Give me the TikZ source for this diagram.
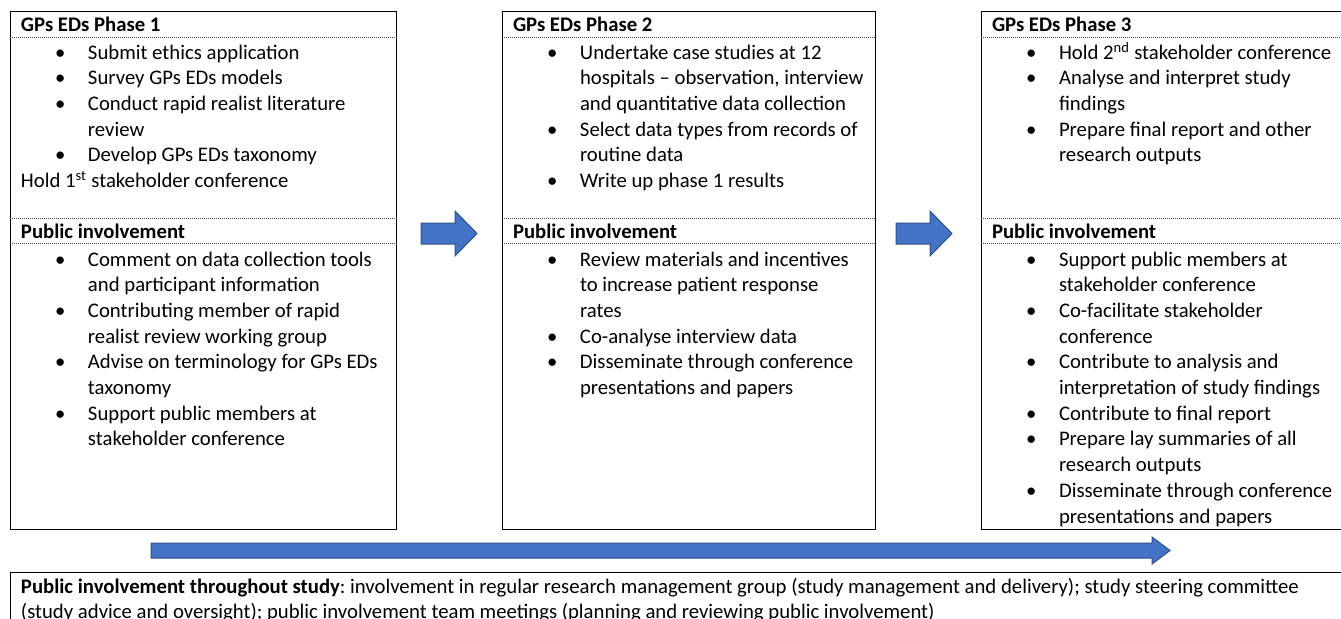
\documentclass[tikz,border=0pt]{standalone}
\usepackage{fontspec}
\setmainfont{Carlito}
\frenchspacing
\newlength\px \setlength\px{0.75pt}
\definecolor{arrfill}{HTML}{4472C4}
\definecolor{arrline}{HTML}{2F528F}
\newcommand\blist[3][67]{\vtop{\hsize=#2\px\parindent=0pt\leftskip=#1\px\rightskip=0pt plus 1fil\baselineskip=25.7\px\lineskiplimit=-50pt\lineskip=0pt\parskip=0pt\frenchspacing #3\par}}
\newcommand\bi{\par\noindent\llap{\makebox[33\px][l]{\textbullet}}}
\tikzset{
  txt/.style={inner sep=0pt, outer sep=0pt, anchor=base west, font=\fontsize{15.55pt}{19.3pt}\selectfont},
  boxframe/.style={draw=black, line width=0.9\px, inner sep=0pt, anchor=north west},
  sepline/.style={draw=black!70, line width=0.8\px, dash pattern=on 1\px off 1\px},
  blockarrow/.style={fill=arrfill, draw=arrline, line width=1\px, line join=miter}
}
\begin{document}
\begin{tikzpicture}[x=0.75pt,y=-0.75pt]
\useasboundingbox (0,0) rectangle (1341,618);
\clip (0,0) rectangle (1341,618);
\fill[white] (0,0) rectangle (1341,618);

% boxes
\node[boxframe, minimum width=386\px, minimum height=518\px] (b1) at (10,11) {};
\node[boxframe, minimum width=373\px, minimum height=518\px] (b2) at (502,11) {};
\node[boxframe, minimum width=450\px, minimum height=518\px] (b3) at (981,11) {};
\node[boxframe, minimum width=1400\px, minimum height=80\px] (b4) at (10,572) {};

% dotted separators
\foreach \b in {b1,b2,b3}{
  \draw[sepline] ([yshift=-26.7\px]\b.north west) -- ([yshift=-26.7\px]\b.north east);
  \draw[sepline] ([yshift=-207\px]\b.north west) -- ([yshift=-207\px]\b.north east);
  \draw[sepline] ([yshift=-232\px]\b.north west) -- ([yshift=-232\px]\b.north east);
}

% Phase 1
\node[txt] (t1) at (21,31) {\textbf{GPs EDs Phase 1}};
\node[txt] (l1) at (21,59) {\blist{560}{\bi Submit ethics application
\bi Survey GPs EDs models
\bi Conduct rapid realist literature\newline review
\bi Develop GPs EDs taxonomy
\par{\leftskip=0pt\noindent Hold 1\textsuperscript{st} stakeholder conference\par}}};
\node[txt] (p1) at (21,238) {\textbf{Public involvement}};
\node[txt] (q1) at (21,266) {\blist{560}{\bi Comment on data collection tools\newline and participant information
\bi Contributing member of rapid\newline realist review working group
\bi Advise on terminology for GPs EDs\newline taxonomy
\bi Support public members at\newline stakeholder conference}};

% Phase 2
\node[txt] (t2) at (513,31) {\textbf{GPs EDs Phase 2}};
\node[txt] (l2) at (513,59) {\blist{560}{\bi Undertake case studies at 12\newline hospitals – observation, interview\newline and quantitative data collection
\bi Select data types from records of\newline routine data
\bi Write up phase 1 results}};
\node[txt] (p2) at (513,238) {\textbf{Public involvement}};
\node[txt] (q2) at (513,266) {\blist{560}{\bi Review materials and incentives\newline to increase patient response\newline rates
\bi Co-analyse interview data
\bi Disseminate through conference\newline presentations and papers}};

% Phase 3
\node[txt] (t3) at (992,31) {\textbf{GPs EDs Phase 3}};
\node[txt] (l3) at (992,59) {\blist{560}{\bi Hold 2\textsuperscript{nd} stakeholder conference
\bi Analyse and interpret study\newline findings
\bi Prepare final report and other\newline research outputs}};
\node[txt] (p3) at (992,238) {\textbf{Public involvement}};
\node[txt] (q3) at (992,266) {\blist{560}{\bi Support public members at\newline stakeholder conference
\bi Co-facilitate stakeholder\newline conference
\bi Contribute to analysis and\newline interpretation of study findings
\bi Contribute to final report
\bi Prepare lay summaries of all\newline research outputs
\bi Disseminate through conference\newline presentations and papers}};

% bottom box text
\node[txt] (bt) at (21,593) {\blist[0]{1800}{\noindent\textbf{Public involvement throughout study}: involvement in regular research management group (study management and delivery); study steering committee\newline (study advice and oversight); public involvement team meetings (planning and reviewing public involvement)}};

% block arrows
\coordinate (a1) at (421,233.5);
\draw[blockarrow] (a1) ++(0,-10.5) -- ++(34,0) -- ++(0,-12) -- (477,233.5) -- (455,256) -- (455,244) -- (421,244) -- cycle;
\coordinate (a2) at (896,233.5);
\draw[blockarrow] (a2) ++(0,-10.5) -- ++(34,0) -- ++(0,-12) -- (952,233.5) -- (930,256) -- (930,244) -- (896,244) -- cycle;
\coordinate (a3) at (151,550.5);
\draw[blockarrow] (a3) ++(0,-7.5) -- (1152,543) -- (1152,537) -- (1170,550.5) -- (1152,564) -- (1152,558) -- (151,558) -- cycle;
\end{tikzpicture}
\end{document}
